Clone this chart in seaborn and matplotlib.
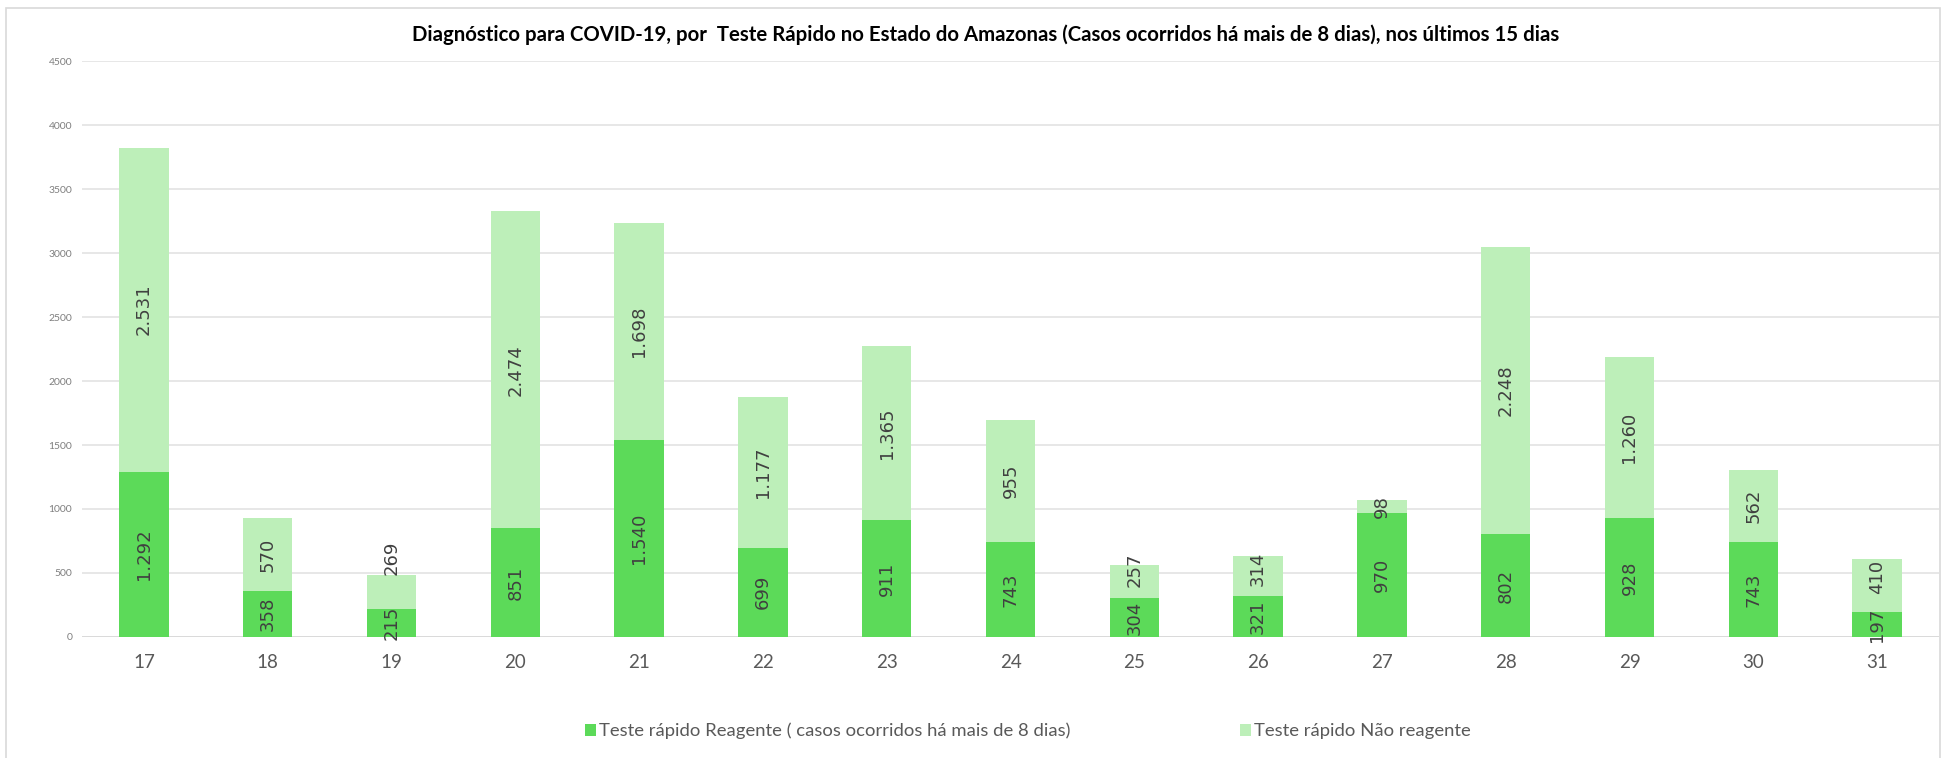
import matplotlib
matplotlib.use("Agg")
import matplotlib.pyplot as plt
import seaborn as sns
import pandas as pd
from matplotlib.patches import Patch, Rectangle

# ---- data ----
dias = ["17", "18", "19", "20", "21", "22", "23", "24", "25", "26", "27", "28", "29", "30", "31"]
reagente = [1292, 358, 215, 851, 1540, 699, 911, 743, 304, 321, 970, 802, 928, 743, 197]
nao_reagente = [2531, 570, 269, 2474, 1698, 1177, 1365, 955, 257, 314, 98, 2248, 1260, 562, 410]
y_ticks = [0, 500, 1000, 1500, 2000, 2500, 3000, 3500, 4000, 4500]

titulo = ("Diagnóstico para COVID-19, por  Teste Rápido no Estado do Amazonas "
          "(Casos ocorridos há mais de 8 dias), nos últimos 15 dias")
serie1 = "Teste rápido Reagente ( casos ocorridos há mais de 8 dias)"
serie2 = "Teste rápido Não reagente"

COR_ESCURA = "#5CDA59"
COR_CLARA = "#BDEFB9"
COR_TEXTO = "#595959"

df = pd.DataFrame({"dia": dias, "reagente": reagente, "nao": nao_reagente})
df["total"] = df["reagente"] + df["nao"]

sns.set_theme(style="white")
plt.rcParams["font.family"] = ["Lato", "DejaVu Sans"]

W, H = 1945, 758
fig = plt.figure(figsize=(W / 100, H / 100), dpi=100)
ax = fig.add_axes([82 / W, 1 - 637 / H, (1939 - 82) / W, (637 - 61) / H])

sns.barplot(data=df, x="dia", y="total", color=COR_CLARA, saturation=1,
            width=0.4, ax=ax, zorder=2, linewidth=0)
sns.barplot(data=df, x="dia", y="reagente", color=COR_ESCURA, saturation=1,
            width=0.4, ax=ax, zorder=3, linewidth=0)

ax.set_ylim(0, 4500)
ax.set_xlim(-0.5, len(dias) - 0.5)
ax.set_yticks(y_ticks)
ax.set_yticklabels([str(t) for t in y_ticks])
ax.yaxis.grid(True, color="#E3E3E3", linewidth=1.2, zorder=0)
ax.set_axisbelow(True)
for s in ax.spines.values():
    s.set_visible(False)
ax.axhline(0, color="#D9D9D9", linewidth=1.3, zorder=1)
ax.set_xlabel("")
ax.set_ylabel("")
ax.tick_params(axis="x", length=0, pad=12, labelsize=13.5, labelcolor=COR_TEXTO)
ax.tick_params(axis="y", length=0, pad=7, labelsize=7.5, labelcolor="#7F7F7F")


def fmt(v):
    return f"{v:,}".replace(",", ".")


# data labels: centred in each segment; the upper one is moved up when it collides
fig.canvas.draw()
renderer = fig.canvas.get_renderer()
px_per_unit = ax.transData.transform((0, 1))[1] - ax.transData.transform((0, 0))[1]
for i, (r, n) in enumerate(zip(reagente, nao_reagente)):
    t1 = ax.text(i, r / 2, fmt(r), rotation=90, ha="center", va="center",
                 fontsize=13, color="#404040", family="DejaVu Sans", zorder=5)
    y2 = r + n / 2
    t2 = ax.text(i, y2, fmt(n), rotation=90, ha="center", va="center",
                 fontsize=13, color="#404040", family="DejaVu Sans", zorder=5)
    b1 = t1.get_window_extent(renderer)
    b2 = t2.get_window_extent(renderer)
    gap = b2.y0 - b1.y1
    half = (b2.y1 - b2.y0) / 2 / px_per_unit
    if gap < 0:
        t2.set_y(r + n + half)
    elif gap < 9:
        t2.set_y(y2 + (13 - gap) / px_per_unit)

fig.text(986 / W, 1 - 35 / H, titulo, ha="center", va="center",
         fontsize=14.7, fontweight="bold", color="#000000")

handles = [Patch(facecolor=COR_ESCURA, edgecolor="none"),
           Patch(facecolor=COR_CLARA, edgecolor="none")]
fig.legend(handles, [serie1, serie2], loc="center", ncol=2,
           bbox_to_anchor=(0.5285, 1 - 731 / H), frameon=False,
           fontsize=13.3, labelcolor=COR_TEXTO, handlelength=0.6,
           handleheight=0.6, handletextpad=0.15, columnspacing=9.2)

fig.add_artist(Rectangle((6 / W, -0.05), (1940 - 6) / W, 1.05 - 8 / H,
                         transform=fig.transFigure, fill=False,
                         edgecolor="#D9D9D9", linewidth=1.2))

fig.savefig("out.png", dpi=100)
